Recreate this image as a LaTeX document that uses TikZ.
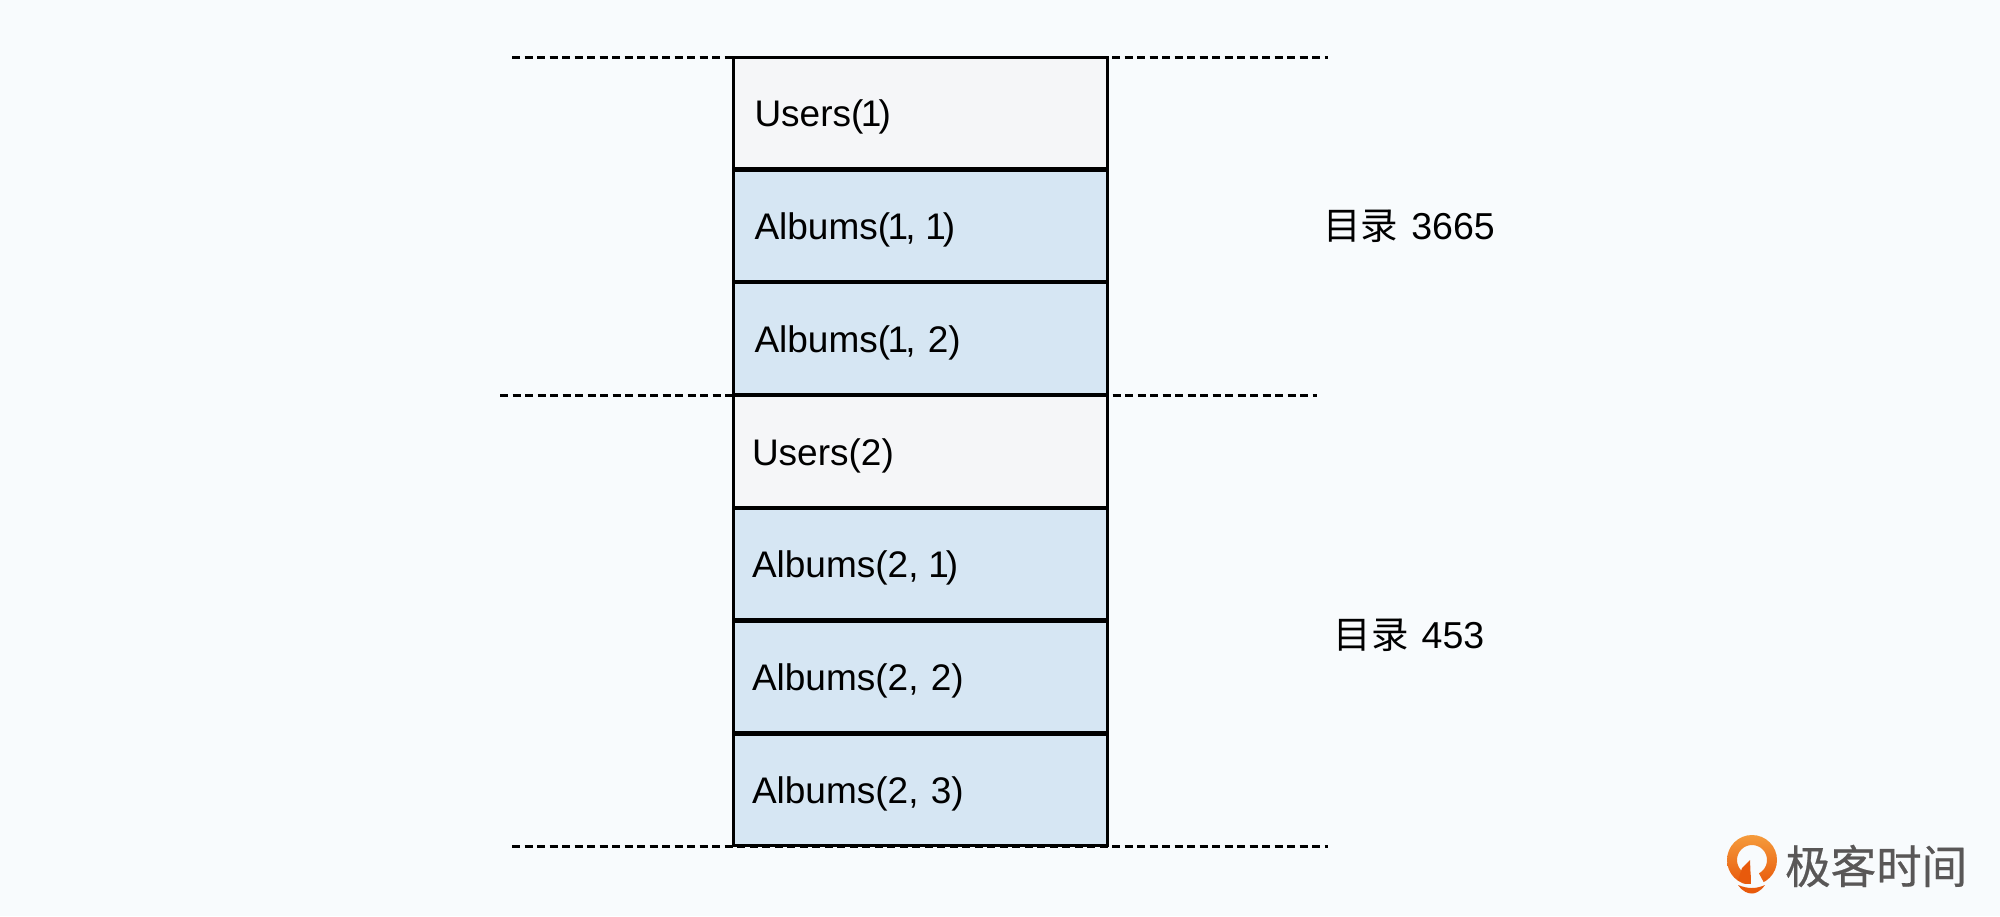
\documentclass[tikz,border=0pt]{standalone}
\usepackage{fontspec}
\setmainfont{Liberation Sans}
\newfontfamily\cjkfont{Noto Sans CJK SC}
\newfontfamily\logofont[FakeBold=0.5]{Noto Sans CJK SC}
\usetikzlibrary{positioning}
\definecolor{pagebg}{HTML}{F8FBFD}
\definecolor{userfill}{HTML}{F5F6F8}
\definecolor{albumfill}{HTML}{D6E6F3}
\definecolor{logotop}{HTML}{F59B3C}
\definecolor{logobot}{HTML}{E85A0C}
\definecolor{logotext}{HTML}{595757}
%the narrow one of the rows
\newcommand{\narrowone}{\kern-2.6pt 1\kern-2.9pt}
\begin{document}
\begin{tikzpicture}
		[x=1pt,y=-1pt,
		 rowbox/.style={draw=black,line width=3pt,rectangle,minimum width=374pt,minimum height=111.5pt,
			inner ysep=0pt,inner xsep=21.5pt,text width=331pt,align=left,text height=27.5pt,text depth=0pt,
			font=\fontsize{37}{37}\selectfont},
		 userrow/.style={rowbox,fill=userfill},
		 albumrow/.style={rowbox,fill=albumfill},
		 lowrow/.style={inner xsep=19pt,text width=336pt},
		 cutline/.style={line width=3pt,black,dash pattern=on 8pt off 4.5pt},
		 sizelabel/.style={font=\fontsize{37.5}{37.5}\selectfont}]
	%the page
	\fill[pagebg] (0,0) rectangle (2000,916);
	\useasboundingbox (0,0) rectangle (2000,916);

	%draw the cut lines first, the rows lie on top of them
	\coordinate (topl) at (512,57);
	\coordinate (topr) at (1328,57);
	\coordinate (midl) at (500,395);
	\coordinate (midr) at (1317,395);
	\coordinate (botl) at (512,846);
	\coordinate (botr) at (1328,846);
	\draw[cutline] (topl) -- (topr);
	\draw[cutline] (midl) -- (midr);
	\draw[cutline] (botl) -- (botr);

	%draw the rows of the first directory
	\node[userrow] (user1) at (920,113) {Users(\narrowone)};
	\node[albumrow] (album11) at (920,225.8) {Albums(\narrowone, \narrowone)};
	\node[albumrow] (album12) at (920,338.6) {Albums(\narrowone, 2)};

	%draw the rows of the second directory
	\node[userrow,lowrow] (user2) at (920,451.4) {Users(2)};
	\node[albumrow,lowrow] (album21) at (920,564.2) {Albums(2, \narrowone)};
	\node[albumrow,lowrow] (album22) at (920,677) {Albums(2, 2)};
	\node[albumrow,lowrow] (album23) at (920,789.8) {Albums(2, 3)};

	%the size of each directory
	\node[sizelabel] (size1) at (1409,226) {{\cjkfont 目录}\hspace{13pt}3665};
	\node[sizelabel] (size2) at (1409,635) {{\cjkfont 目录}\hspace{13pt}453};

	%draw the logo
	\begin{scope}
	\clip (1720,830) rectangle (1790,883.5);
	\shade[top color=logotop,bottom color=logobot,even odd rule]
		(1752,860) circle (25) (1752,860) circle (15);
	\end{scope}
	\fill[logobot] (1742,868) -- (1750,860) -- (1751,884) -- (1738,880) -- cycle;
	\fill[pagebg] (1751,860) -- (1757,870) -- (1764,883) -- (1757,890) -- (1751,890) -- cycle;
	\fill[logobot] (1738,885) .. controls (1748,889) and (1756,889) .. (1765,885)
		.. controls (1760,892) and (1755,893.5) .. (1752,893.5)
		.. controls (1748,893.5) and (1743,892) .. (1738,885) -- cycle;
	\node[font=\fontsize{45.5}{45.5}\logofont\selectfont,text=logotext,anchor=west,inner sep=0pt] (logoname) at (1785,866) {极客时间};
\end{tikzpicture}
\end{document}
